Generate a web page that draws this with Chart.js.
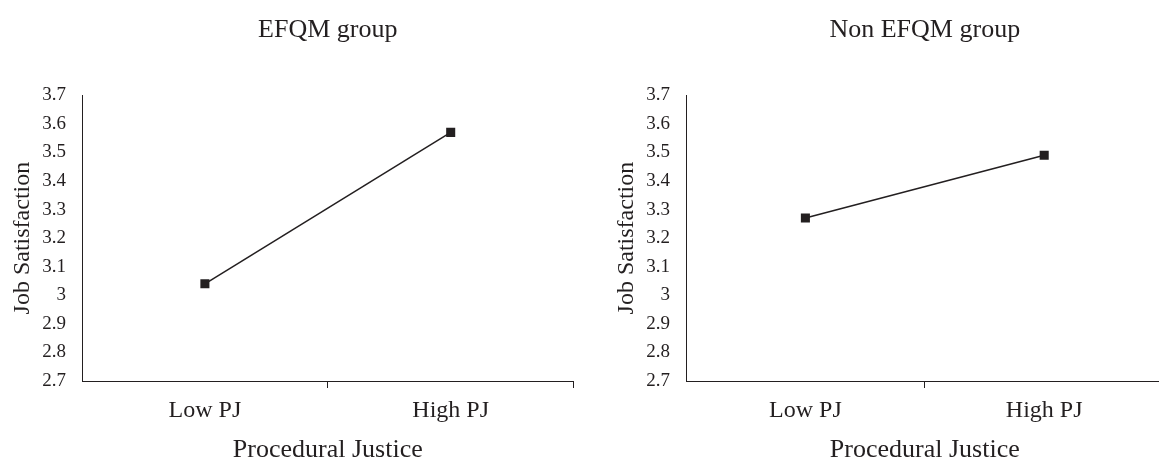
<!DOCTYPE html>
<html>
<head>
<meta charset="utf-8">
<script src="https://cdn.jsdelivr.net/npm/chart.js@4"></script>
<style>
  html, body { margin: 0; padding: 0; background: #fff; width: 1159px; height: 461px; overflow: hidden; position: relative; }
  .box { position: absolute; top: 0; height: 470px; }
  #b1 { left: 0; width: 580px; }
  #b2 { left: 604px; width: 566px; }
</style>
</head>
<body>
<div class="box" id="b1"><canvas id="c1"></canvas></div>
<div class="box" id="b2"><canvas id="c2"></canvas></div>
<script>
const categories = ["Low PJ", "High PJ"];
const efqmValues = [3.04, 3.57];
const nonEfqmValues = [3.27, 3.49];
const yTicks = [2.7, 2.8, 2.9, 3.0, 3.1, 3.2, 3.3, 3.4, 3.5, 3.6, 3.7];
const chartTitles = ["EFQM group", "Non EFQM group"];
const xTitle = "Procedural Justice";
const yTitle = "Job Satisfaction";

const FONT = "'Liberation Serif', 'Times New Roman', serif";
const INK = "#231f20";

function makeChart(id, title, values) {
  return new Chart(document.getElementById(id), {
    type: 'line',
    data: {
      labels: categories,
      datasets: [{
        data: values,
        borderColor: INK,
        backgroundColor: INK,
        borderWidth: 1.5,
        pointStyle: 'rect',
        pointRadius: 6.4,
        pointBorderWidth: 0,
        pointBackgroundColor: INK,
        tension: 0,
        fill: false
      }]
    },
    options: {
      responsive: true,
      maintainAspectRatio: false,
      animation: false,
      layout: { padding: 0 },
      plugins: {
        legend: { display: false },
        tooltip: { enabled: false },
        title: {
          display: true,
          fullSize: false,
          text: title,
          color: INK,
          font: { family: FONT, size: 26, weight: 'normal' },
          padding: { top: 15, bottom: 49 }
        }
      },
      scales: {
        x: {
          type: 'category',
          offset: true,
          afterFit: (s) => { s.height = 89; },
          grid: { display: false, drawTicks: false },
          border: { display: true, color: INK, width: 1 },
          ticks: { color: INK, font: { family: FONT, size: 24 }, padding: 15 },
          title: { display: true, text: xTitle, color: INK, font: { family: FONT, size: 26 }, padding: { top: 0, bottom: 4 } }
        },
        y: {
          min: 2.7,
          max: 3.7,
          afterFit: (s) => { s.width = 82; },
          afterBuildTicks: (s) => { s.ticks = yTicks.map(v => ({ value: v })); },
          grid: { display: false, drawTicks: true, tickLength: 6, tickColor: INK },
          border: { display: true, color: INK, width: 1 },
          ticks: {
            color: INK,
            font: { family: FONT, size: 19 },
            padding: 10,
            callback: (v) => String(Math.round(v * 10) / 10)
          },
          title: { display: true, text: yTitle, color: INK, font: { family: FONT, size: 24 }, padding: { top: 8, bottom: 0 } }
        }
      }
    },
    plugins: [{
      id: 'xticks',
      afterDraw(chart) {
        const ctx = chart.ctx, xs = chart.scales.x, a = chart.chartArea;
        ctx.save();
        ctx.strokeStyle = INK; ctx.lineWidth = 1;
        const mid = (xs.getPixelForValue(0) + xs.getPixelForValue(1)) / 2;
        [mid, a.right].forEach(px => {
          ctx.beginPath();
          ctx.moveTo(Math.round(px) - 0.5, a.bottom);
          ctx.lineTo(Math.round(px) - 0.5, a.bottom + 7);
          ctx.stroke();
        });
        ctx.restore();
      }
    }]
  });
}

makeChart('c1', chartTitles[0], efqmValues);
makeChart('c2', chartTitles[1], nonEfqmValues);
</script>
</body>
</html>
